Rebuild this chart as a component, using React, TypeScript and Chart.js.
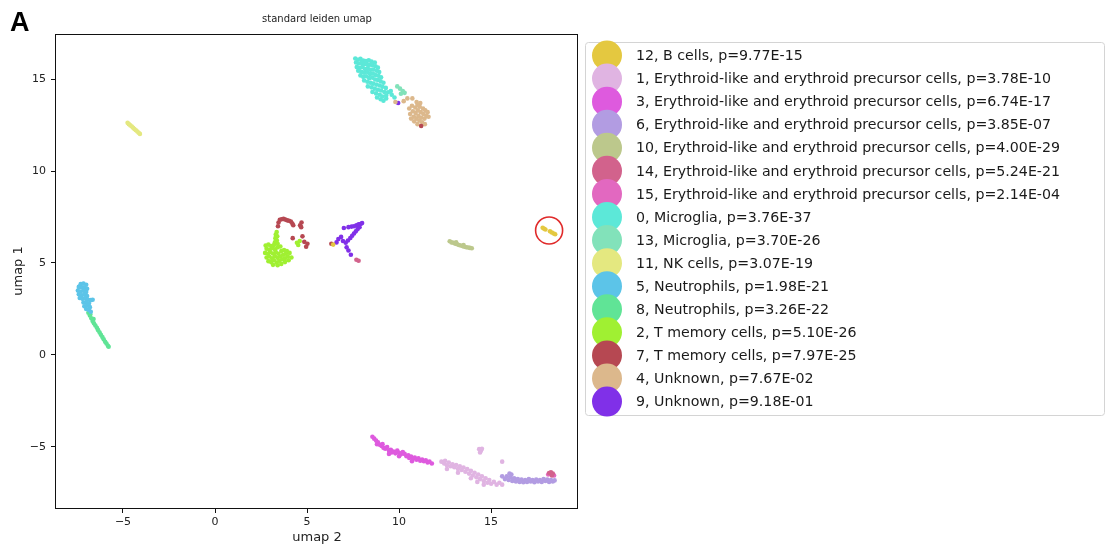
import React, { useEffect, useRef } from "react";
import { Chart, registerables } from "chart.js";

Chart.register(...registerables);

type P = [number, number];

// ---------- text ----------
const panelLabel = "A";
const plotTitle = "standard leiden umap";
const xTitle = "umap 2";
const yTitle = "umap 1";

// ---------- axes ----------
const xRange = [-8.64, 19.72];
const yRange = [-8.32, 17.45];
const xTicks = [-5, 0, 5, 10, 15];
const yTicks = [-5, 0, 5, 10, 15];

// ---------- legend (order as in reference) ----------
const legendLabels = [
  "12, B cells, p=9.77E-15",
  "1, Erythroid-like and erythroid precursor cells, p=3.78E-10",
  "3, Erythroid-like and erythroid precursor cells, p=6.74E-17",
  "6, Erythroid-like and erythroid precursor cells, p=3.85E-07",
  "10, Erythroid-like and erythroid precursor cells, p=4.00E-29",
  "14, Erythroid-like and erythroid precursor cells, p=5.24E-21",
  "15, Erythroid-like and erythroid precursor cells, p=2.14E-04",
  "0, Microglia, p=3.76E-37",
  "13, Microglia, p=3.70E-26",
  "11, NK cells, p=3.07E-19",
  "5, Neutrophils, p=1.98E-21",
  "8, Neutrophils, p=3.26E-22",
  "2, T memory cells, p=5.10E-26",
  "7, T memory cells, p=7.97E-25",
  "4, Unknown, p=7.67E-02",
  "9, Unknown, p=9.18E-01",
];

const clusterColors = [
  "#e4c840", // 12
  "#e0b4e2", // 1
  "#de5ade", // 3
  "#b29ce2", // 6
  "#bcc88c", // 10
  "#d2628c", // 14
  "#e268c0", // 15
  "#5ce8d8", // 0
  "#82e2ba", // 13
  "#e4e880", // 11
  "#5cc4e8", // 5
  "#60e496", // 8
  "#a0f032", // 2
  "#b64852", // 7
  "#dcb88c", // 4
  "#8030e8", // 9
];

// ---------- cell coordinates per cluster (umap 2, umap 1) ----------
const cluster12: P[] = [
  [17.8, 6.92], [17.88, 6.86], [17.95, 6.82], [18.2, 6.72], [18.3, 6.66], [18.4, 6.6], [18.48, 6.56], [6.42, 6.0],
];
const cluster1: P[] = [
  [12.3, -5.8], [12.45, -5.9], [12.5, -5.75], [12.6, -6.0], [12.7, -5.85], [12.8, -6.05], [12.9, -5.95], [13.0, -6.1],
  [13.1, -5.98], [13.2, -6.2], [13.3, -6.05], [13.4, -6.25], [13.5, -6.12], [13.6, -6.35], [13.7, -6.2], [13.8, -6.45],
  [13.9, -6.3], [14.0, -6.55], [14.1, -6.4], [14.2, -6.65], [14.3, -6.5], [14.4, -6.75], [14.5, -6.6], [14.6, -6.85],
  [14.7, -6.7], [14.8, -6.95], [14.9, -6.8], [15.0, -7.0], [15.15, -6.9], [15.3, -7.05], [15.45, -6.95], [15.6, -7.05],
  [13.9, -6.7], [14.25, -6.9], [14.6, -7.05], [14.35, -5.12], [14.45, -5.2], [14.5, -5.1], [14.4, -5.3], [15.6, -5.8],
  [12.6, -6.2], [13.2, -6.4],
];
const cluster3: P[] = [
  [8.55, -4.45], [8.65, -4.55], [8.75, -4.65], [8.85, -4.75], [8.8, -4.85], [8.95, -4.88], [9.05, -4.95], [9.15, -5.05],
  [9.1, -4.85], [9.25, -5.1], [9.35, -5.0], [9.45, -5.2], [9.55, -5.15], [9.6, -5.3], [9.7, -5.25], [9.8, -5.35],
  [9.9, -5.2], [10.0, -5.32], [10.1, -5.4], [10.2, -5.28], [10.3, -5.38], [10.4, -5.5], [10.5, -5.45], [10.55, -5.6],
  [10.65, -5.52], [10.75, -5.65], [10.85, -5.58], [10.95, -5.7], [11.05, -5.62], [11.15, -5.75], [11.25, -5.68],
  [11.35, -5.78], [11.45, -5.72], [11.55, -5.85], [11.65, -5.8], [11.78, -5.9], [9.45, -5.38], [10.0, -5.5], [10.7, -5.78],
];
const cluster6: P[] = [
  [15.6, -6.6], [15.75, -6.75], [15.85, -6.6], [15.95, -6.8], [16.05, -6.65], [16.15, -6.85], [16.25, -6.7], [16.35, -6.88],
  [16.45, -6.75], [16.55, -6.9], [16.65, -6.78], [16.75, -6.92], [16.85, -6.8], [16.95, -6.9], [17.05, -6.75], [17.15, -6.88],
  [17.25, -6.8], [17.35, -6.92], [17.45, -6.78], [17.55, -6.88], [17.65, -6.8], [17.75, -6.9], [17.85, -6.75], [17.95, -6.85],
  [18.05, -6.78], [18.15, -6.9], [18.25, -6.8], [18.35, -6.88], [18.45, -6.82], [16.0, -6.45], [16.1, -6.5],
];
const cluster10: P[] = [
  [12.75, 6.18], [12.85, 6.12], [12.95, 6.1], [13.05, 6.05], [13.15, 6.02], [13.25, 5.98], [13.35, 5.95], [13.45, 5.92],
  [13.55, 5.88], [13.65, 5.86], [13.75, 5.84], [13.85, 5.82], [13.95, 5.8], [13.1, 6.12], [13.5, 5.98],
];
const cluster14: P[] = [
  [18.15, -6.42], [18.25, -6.38], [18.35, -6.45], [18.3, -6.55], [7.68, 5.18], [7.8, 5.12],
];
const cluster15: P[] = [[18.42, -6.55], [18.1, -6.5]];
const cluster0: P[] = [
  [7.62, 16.12], [7.75, 16.05], [7.9, 16.1], [8.05, 16.0], [8.2, 15.98], [8.35, 16.02], [8.5, 15.95], [8.68, 15.9],
  [7.66, 15.9], [7.8, 15.85], [7.95, 15.88], [8.1, 15.8], [8.25, 15.82], [8.4, 15.78], [8.55, 15.75], [8.72, 15.7],
  [8.85, 15.62], [7.7, 15.65], [7.85, 15.6], [8.0, 15.66], [8.15, 15.55], [8.3, 15.6], [8.45, 15.5], [8.6, 15.52],
  [8.78, 15.45], [8.92, 15.38], [7.78, 15.45], [7.95, 15.4], [8.1, 15.35], [8.28, 15.38], [8.42, 15.28], [8.58, 15.3],
  [8.72, 15.22], [8.88, 15.18], [9.02, 15.1], [7.9, 15.2], [8.05, 15.12], [8.22, 15.15], [8.38, 15.05], [8.55, 15.08],
  [8.7, 14.98], [8.85, 14.95], [9.0, 14.88], [9.15, 14.8], [8.1, 14.92], [8.28, 14.85], [8.45, 14.8], [8.6, 14.75],
  [8.78, 14.7], [8.95, 14.65], [9.1, 14.58], [9.28, 14.52], [8.3, 14.6], [8.5, 14.55], [8.68, 14.48], [8.85, 14.42],
  [9.02, 14.38], [9.2, 14.3], [9.4, 14.28], [9.55, 14.35], [8.55, 14.3], [8.75, 14.22], [8.95, 14.15], [9.1, 14.05],
  [9.3, 14.1], [8.8, 14.0], [9.0, 13.9], [9.15, 13.82], [9.3, 13.95], [9.6, 14.15], [9.75, 14.0],
];
const cluster13: P[] = [[9.9, 14.6], [10.05, 14.48], [10.2, 14.35], [10.3, 14.25], [10.1, 14.2]];
const cluster11: P[] = [
  [-4.75, 12.62], [-4.68, 12.55], [-4.6, 12.48], [-4.52, 12.42], [-4.45, 12.35], [-4.38, 12.28], [-4.3, 12.22],
  [-4.22, 12.15], [-4.15, 12.08], [-4.08, 12.02],
];
const cluster5: P[] = [
  [-7.3, 3.85], [-7.15, 3.88], [-7.0, 3.82], [-7.4, 3.7], [-7.25, 3.68], [-7.1, 3.65], [-6.95, 3.6], [-7.45, 3.5],
  [-7.3, 3.45], [-7.15, 3.5], [-7.0, 3.42], [-7.4, 3.3], [-7.25, 3.25], [-7.1, 3.3], [-6.95, 3.2], [-7.35, 3.1],
  [-7.2, 3.05], [-7.05, 3.1], [-6.9, 3.0], [-6.65, 3.0], [-6.75, 2.98], [-7.15, 2.85], [-7.0, 2.88], [-6.85, 2.8],
  [-7.1, 2.65], [-6.95, 2.7], [-6.8, 2.6], [-7.0, 2.5], [-6.85, 2.45], [-6.75, 2.35],
];
const cluster8: P[] = [
  [-6.88, 2.3], [-6.8, 2.15], [-6.72, 2.0], [-6.65, 1.85], [-6.58, 1.72], [-6.5, 1.6], [-6.42, 1.48], [-6.35, 1.35],
  [-6.27, 1.22], [-6.2, 1.1], [-6.12, 0.98], [-6.05, 0.85], [-5.97, 0.72], [-5.9, 0.62], [-5.82, 0.5], [-5.78, 0.45],
  [-6.78, 2.22], [-6.6, 1.95],
];
const cluster2: P[] = [
  [3.35, 6.68], [3.3, 6.55], [3.38, 6.45], [3.28, 6.35], [3.36, 6.22], [3.25, 6.12], [3.4, 6.05],
  [2.75, 5.95], [2.9, 6.0], [3.05, 5.92], [3.2, 5.98], [2.8, 5.78], [2.95, 5.72], [3.1, 5.8], [3.25, 5.75], [3.4, 5.85],
  [3.55, 5.9], [2.72, 5.55], [2.88, 5.5], [3.0, 5.6], [3.15, 5.52], [3.3, 5.6], [3.45, 5.5], [3.6, 5.65], [3.75, 5.7],
  [2.8, 5.3], [2.95, 5.35], [3.1, 5.25], [3.25, 5.38], [3.4, 5.28], [3.55, 5.35], [3.7, 5.45], [3.85, 5.5], [2.9, 5.1],
  [3.05, 5.05], [3.2, 5.15], [3.35, 5.02], [3.5, 5.12], [3.65, 5.2], [3.8, 5.25], [3.95, 5.35], [3.15, 4.9], [3.4, 4.88],
  [3.6, 4.95], [3.8, 5.05], [4.0, 5.15], [4.15, 5.3], [3.9, 5.65], [4.05, 5.55], [4.45, 6.1], [4.6, 6.2], [4.52, 5.98],
];
const cluster7: P[] = [
  [3.42, 7.0], [3.45, 7.2], [3.52, 7.35], [3.62, 7.38], [3.72, 7.4], [3.82, 7.36], [3.92, 7.32], [4.02, 7.3],
  [4.12, 7.25], [4.2, 7.15], [4.25, 7.05], [4.62, 7.05], [4.7, 7.2], [4.68, 6.95], [4.22, 6.35], [4.75, 6.45],
  [4.85, 6.15], [5.02, 6.05], [4.95, 5.88], [6.32, 6.05], [11.2, 12.45],
];
const cluster4: P[] = [
  [10.55, 13.4], [10.6, 13.1], [10.65, 12.85], [10.7, 13.55], [10.75, 13.25], [10.8, 12.95], [10.82, 12.7], [10.88, 13.45],
  [10.9, 13.15], [10.95, 12.85], [11.0, 13.6], [11.02, 13.3], [11.05, 13.0], [11.1, 12.75], [11.12, 13.5], [11.18, 13.2],
  [11.2, 12.9], [11.25, 12.65], [11.3, 13.4], [11.32, 13.1], [11.38, 12.85], [11.42, 13.3], [11.48, 13.0], [11.55, 13.2],
  [11.6, 12.95], [10.95, 13.75], [11.15, 13.7], [10.45, 13.95], [10.72, 13.95], [9.8, 13.75], [10.25, 13.8], [11.4, 12.55],
  [11.0, 12.55],
];
const cluster9: P[] = [
  [7.99, 7.17], [7.9, 7.12], [7.8, 7.1], [7.68, 7.05], [7.55, 7.0], [7.42, 6.98], [7.25, 6.95], [7.0, 6.9],
  [7.85, 6.95], [7.75, 6.85], [7.65, 6.72], [7.55, 6.6], [7.45, 6.48], [7.35, 6.36], [7.22, 6.22], [7.1, 6.1],
  [6.85, 6.42], [6.7, 6.3], [6.6, 6.12], [6.95, 6.2], [7.15, 5.85], [7.25, 5.68], [7.38, 5.45], [9.95, 13.7],
];

const clusterPoints: P[][] = [
  cluster12, cluster1, cluster3, cluster6, cluster10, cluster14, cluster15, cluster0,
  cluster13, cluster11, cluster5, cluster8, cluster2, cluster7, cluster4, cluster9,
];

// highlighted group (red ring) centre in data coordinates
const highlightCenter: P = [18.15, 6.77];

const fmtTick = (v: number | string) => String(v).replace("-", "\u2212");

const decorPlugin = {
  id: "decor",
  afterDraw(chart: any) {
    const { ctx, chartArea: a, scales } = chart;
    ctx.save();
    // axes frame
    ctx.strokeStyle = "#111";
    ctx.lineWidth = 1;
    ctx.strokeRect(Math.round(a.left) - 0.5, Math.round(a.top) + 0.5, a.right - a.left, a.bottom - a.top);

    // title
    ctx.fillStyle = "#222";
    ctx.font = '10px "DejaVu Sans"';
    ctx.textAlign = "center";
    ctx.textBaseline = "middle";
    ctx.fillText(plotTitle, (a.left + a.right) / 2, 19);

    // panel letter
    ctx.fillStyle = "#000";
    ctx.font = 'bold 27px "Liberation Sans"';
    ctx.textAlign = "left";
    ctx.textBaseline = "alphabetic";
    ctx.fillText(panelLabel, 10, 31);

    // red ring
    const cx = scales.x.getPixelForValue(highlightCenter[0]);
    const cy = scales.y.getPixelForValue(highlightCenter[1]);
    ctx.beginPath();
    ctx.arc(cx, cy, 13.5, 0, Math.PI * 2);
    ctx.strokeStyle = "#e02a2a";
    ctx.lineWidth = 1.6;
    ctx.stroke();

    // legend box
    const lx = 585, ly = 42, lw = 519, lh = 373;
    ctx.beginPath();
    if (ctx.roundRect) ctx.roundRect(lx + 0.5, ly + 0.5, lw, lh, 3);
    else ctx.rect(lx + 0.5, ly + 0.5, lw, lh);
    ctx.fillStyle = "rgba(255,255,255,0.9)";
    ctx.fill();
    ctx.strokeStyle = "#d4d4d4";
    ctx.lineWidth = 1;
    ctx.stroke();

    const rowStep = 23.07;
    chart.data.datasets.forEach((ds: any, i: number) => {
      const y = 55.5 + i * rowStep;
      ctx.beginPath();
      ctx.arc(607, y, 15, 0, Math.PI * 2);
      ctx.fillStyle = ds.backgroundColor;
      ctx.fill();
      ctx.fillStyle = "#1a1a1a";
      ctx.font = '14.2px "DejaVu Sans"';
      ctx.textAlign = "left";
      ctx.textBaseline = "middle";
      ctx.fillText(ds.label, 636, y + 1);
    });
    ctx.restore();
  },
};

export default function App() {
  const ref = useRef<HTMLCanvasElement | null>(null);

  useEffect(() => {
    if (!ref.current) return;
    const datasets = clusterPoints.map((pts, i) => ({
      label: legendLabels[i],
      data: pts.map(([x, y]) => ({ x, y })),
      backgroundColor: clusterColors[i],
      pointBackgroundColor: clusterColors[i],
      pointRadius: 2.3,
      pointBorderWidth: 0,
      pointHoverRadius: 2.3,
      showLine: false,
    }));

    const chart = new Chart(ref.current, {
      type: "scatter",
      data: { datasets },
      options: {
        responsive: false,
        animation: false,
        devicePixelRatio: 1,
        layout: { padding: { left: 0, top: 34, right: 1111 - 578, bottom: 0 } },
        plugins: { legend: { display: false }, tooltip: { enabled: false }, title: { display: false } },
        scales: {
          x: {
            type: "linear",
            min: xRange[0],
            max: xRange[1],
            afterBuildTicks: (s: any) => { s.ticks = xTicks.map((v) => ({ value: v })); },
            afterFit: (s: any) => { s.height = 42; s.paddingLeft = 0; s.paddingRight = 0; s.paddingTop = 0; s.paddingBottom = 0; },
            grid: { display: true, drawOnChartArea: false, drawTicks: true, tickLength: 5, tickColor: "#111", tickWidth: 1 },
            border: { display: false },
            ticks: { font: { family: "DejaVu Sans", size: 11 }, color: "#222", padding: 3, maxRotation: 0, callback: (v: any) => fmtTick(v) },
            title: { display: true, text: xTitle, font: { family: "DejaVu Sans", size: 13 }, color: "#222", padding: { top: 0, bottom: 5 } },
          },
          y: {
            type: "linear",
            min: yRange[0],
            max: yRange[1],
            afterBuildTicks: (s: any) => { s.ticks = yTicks.map((v) => ({ value: v })); },
            afterFit: (s: any) => { s.width = 56; s.paddingLeft = 0; s.paddingRight = 0; s.paddingTop = 0; s.paddingBottom = 0; },
            grid: { display: true, drawOnChartArea: false, drawTicks: true, tickLength: 5, tickColor: "#111", tickWidth: 1 },
            border: { display: false },
            ticks: { font: { family: "DejaVu Sans", size: 11 }, color: "#222", padding: 5, callback: (v: any) => fmtTick(v) },
            title: { display: true, text: yTitle, font: { family: "DejaVu Sans", size: 13 }, color: "#222", padding: { top: 11, bottom: 0 } },
          },
        },
      },
      plugins: [decorPlugin],
    });
    return () => chart.destroy();
  }, []);

  return (
    <div style={{ position: "fixed", left: 0, top: 0, width: 1111, height: 550, background: "#fff" }}>
      <canvas ref={ref} width={1111} height={550} style={{ display: "block", width: 1111, height: 550 }} />
    </div>
  );
}
